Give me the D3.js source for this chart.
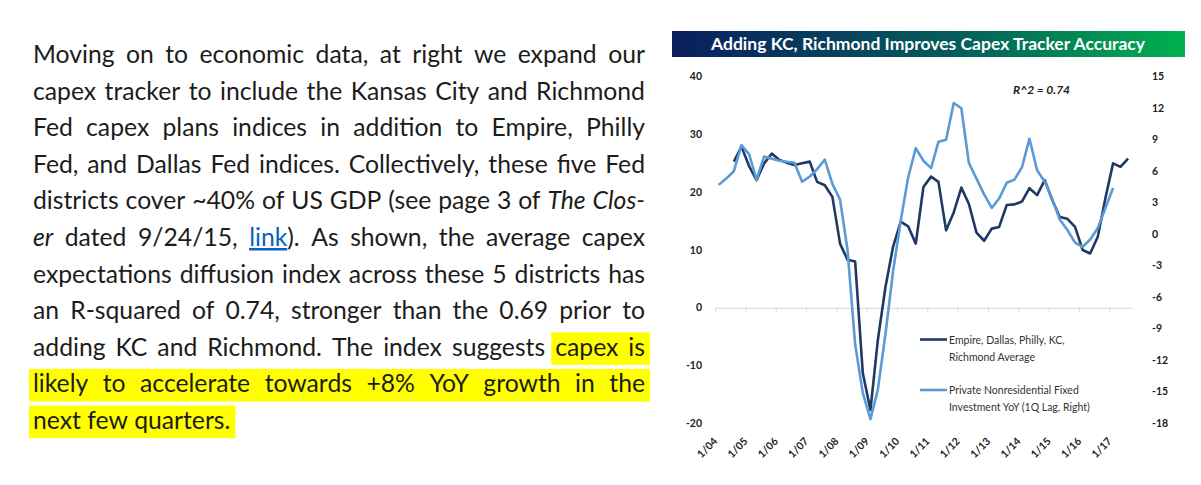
<!DOCTYPE html>
<html>
<head>
<meta charset="utf-8">
<script src="https://cdn.jsdelivr.net/npm/d3@7"></script>
<style>
  body { margin: 0; background: #fff; }
  svg { display: block; font-family: Lato, "Open Sans", sans-serif; }
</style>
</head>
<body>
<script>
var width = 1201,
  height = 485;

// quarterly observations, 2004Q1 .. 2017Q3
var quarters = [
  "2004Q1","2004Q2","2004Q3","2004Q4","2005Q1","2005Q2","2005Q3","2005Q4",
  "2006Q1","2006Q2","2006Q3","2006Q4","2007Q1","2007Q2","2007Q3","2007Q4",
  "2008Q1","2008Q2","2008Q3","2008Q4","2009Q1","2009Q2","2009Q3","2009Q4",
  "2010Q1","2010Q2","2010Q3","2010Q4","2011Q1","2011Q2","2011Q3","2011Q4",
  "2012Q1","2012Q2","2012Q3","2012Q4","2013Q1","2013Q2","2013Q3","2013Q4",
  "2014Q1","2014Q2","2014Q3","2014Q4","2015Q1","2015Q2","2015Q3","2015Q4",
  "2016Q1","2016Q2","2016Q3","2016Q4","2017Q1","2017Q2","2017Q3"
];

// Empire, Dallas, Philly, KC, Richmond average (left axis)
var capexAvg = [
  null, null, 25.3, 27.9, 24.5, 22.1, 25.0, 26.7,
  25.6, 25.1, 24.7, 25.0, 25.3, 21.8, 21.2, 19.2,
  11.1, 8.3, 8.0, -11.3, -17.7, -5.6, 3.6, 10.6,
  14.9, 14.1, 11.1, 20.9, 22.7, 21.8, 13.4, 16.5,
  20.8, 18.0, 13.0, 11.6, 13.7, 14.0, 17.8, 17.9,
  18.4, 20.7, 19.5, 22.1, 18.6, 15.7, 15.4, 14.0,
  10.0, 9.4, 12.3, 19.0, 25.0, 24.4, 25.8
];

// private nonresidential fixed investment YoY, 1Q lag (right axis)
var nonresYoY = [
  4.7, 5.3, 6.0, 8.5, 7.6, 5.2, 7.4, 7.2,
  7.0, 6.9, 6.8, 5.0, 5.5, 6.2, 7.1, 4.8,
  3.3, -1.5, -10.5, -15.1, -17.6, -14.8, -9.5, -3.5,
  1.3, 5.4, 8.2, 7.0, 6.3, 8.8, 9.0, 12.5,
  12.0, 6.8, 5.3, 3.8, 2.5, 3.4, 4.9, 5.2,
  6.4, 9.1, 6.1, 5.0, 3.3, 1.4, 0.4, -0.8,
  -1.2, -0.5, 0.6, 2.5, 4.4, null, null
];

var leftTicks = [40, 30, 20, 10, 0, -10, -20];
var rightTicks = [15, 12, 9, 6, 3, 0, -3, -6, -9, -12, -15, -18];
var yearLabels = ["1/04","1/05","1/06","1/07","1/08","1/09","1/10",
  "1/11","1/12","1/13","1/14","1/15","1/16","1/17"];

var seriesNames = [
  ["Empire, Dallas, Philly, KC,", "Richmond Average"],
  ["Private Nonresidential Fixed", "Investment YoY (1Q Lag, Right)"]
];
var chartTitle = "Adding KC, Richmond Improves Capex Tracker Accuracy";
var rsqLabel = "R^2 = 0.74";

// ^ = highlighted word, *..* = italic, [..] = link
var paragraph = [
  "Moving on to economic data, at right we expand our",
  "capex tracker to include the Kansas City and Richmond",
  "Fed capex plans indices in addition to Empire, Philly",
  "Fed, and Dallas Fed indices. Collectively, these five Fed",
  "districts cover ~40% of US GDP (see page 3 of *The* *Clos-*",
  "*er* dated 9/24/15, [link]). As shown, the average capex",
  "expectations diffusion index across these 5 districts has",
  "an R-squared of 0.74, stronger than the 0.69 prior to",
  "adding KC and Richmond. The index suggests ^capex ^is",
  "^likely ^to ^accelerate ^towards ^+8% ^YoY ^growth ^in ^the",
  "^next ^few ^quarters."
];

var svg = d3.select("body").append("svg")
  .attr("width", width)
  .attr("height", height);

// ---------- paragraph on the left ----------
var paraLeft = 33, paraRight = 645, base0 = 63, lineStep = 36.6, baseSize = 22;

var hlG = svg.append("g");
var paraG = svg.append("g")
  .attr("font-size", baseSize)
  .attr("fill", "#1c1c1c");

function wordParts(w) {
  if (/^\*.*\*$/.test(w)) return [{ t: w.slice(1, -1), s: "i" }];
  var m = w.match(/^\[(.*?)\](.*)$/);
  if (m) return [{ t: m[1], s: "link" }, { t: m[2], s: "" }];
  return [{ t: w, s: "" }];
}

var lines = paragraph.map(function (str) {
  return str.split(" ").map(function (w) {
    var hl = w[0] === "^";
    if (hl) w = w.slice(1);
    return { hl: hl, parts: wordParts(w) };
  });
});

// measure a space
var probe = paraG.append("text").text("x x");
var probe2 = paraG.append("text").text("xx");
var spaceW = probe.node().getComputedTextLength() - probe2.node().getComputedTextLength();
probe.remove(); probe2.remove();

lines.forEach(function (words, i) {
  words.forEach(function (w) {
    var t = paraG.append("text");
    w.parts.forEach(function (p) {
      var ts = t.append("tspan").text(p.t);
      if (p.s === "i") ts.attr("font-style", "italic");
      if (p.s === "link") ts.attr("fill", "#0563c1").attr("text-decoration", "underline");
    });
    w.node = t;
    w.w = t.node().getComputedTextLength();
  });
});

// scale font so the tightest line fits the column
var maxNat = d3.max(lines.slice(0, -1), function (words) {
  return d3.sum(words, function (w) { return w.w; }) + spaceW * (words.length - 1);
});
var k = (paraRight - paraLeft - 6) / maxNat;
var fs = baseSize * k;
paraG.attr("font-size", fs);

lines.forEach(function (words, i) {
  var y = base0 + i * lineStep;
  var total = d3.sum(words, function (w) { return w.w * k; });
  var last = i === lines.length - 1;
  var gap = last ? spaceW * k : (paraRight - paraLeft - total) / (words.length - 1);
  var x = paraLeft;
  words.forEach(function (w) {
    w.x = x;
    w.node.attr("x", x).attr("y", y);
    x += w.w * k + gap;
  });
  var hw = words.filter(function (w) { return w.hl; });
  if (hw.length) {
    var x0 = hw[0].x - 4,
      x1 = hw[hw.length - 1].x + hw[hw.length - 1].w * k + 5;
    hlG.append("rect")
      .attr("x", x0).attr("y", y - fs * 0.95)
      .attr("width", x1 - x0).attr("height", fs * 1.32)
      .attr("fill", "#ffff00");
  }
});

// ---------- chart on the right ----------
var x = d3.scaleTime()
  .domain([new Date(2004, 0, 1), new Date(2017, 9, 1)])
  .range([715, 1132]);
var yL = d3.scaleLinear().domain([-20, 40]).range([423.3, 76.7]);
var yR = d3.scaleLinear().domain([-18, 15]).range([423.3, 76.7]);

function qDate(q) {
  return new Date(+q.slice(0, 4), (+q.slice(5) - 1) * 3 + 1, 15);
}

// title banner
var defs = svg.append("defs");
var grad = defs.append("linearGradient").attr("id", "banner");
grad.append("stop").attr("offset", "0%").attr("stop-color", "#0b1e5e");
grad.append("stop").attr("offset", "55%").attr("stop-color", "#055c5c");
grad.append("stop").attr("offset", "100%").attr("stop-color", "#00b04f");

svg.append("rect")
  .attr("x", 672).attr("y", 31)
  .attr("width", 513).attr("height", 26)
  .attr("fill", "url(#banner)");

var titleT = svg.append("text")
  .attr("x", 928).attr("y", 50)
  .attr("text-anchor", "middle")
  .attr("font-weight", "bold")
  .attr("font-size", 15)
  .attr("fill", "#fff")
  .text(chartTitle);
titleT.attr("font-size", 15 * 434 / titleT.node().getComputedTextLength());

// zero axis with year ticks
var yearDates = yearLabels.map(function (s) { return new Date(2000 + +s.slice(2), 0, 1); });

var xAxis = svg.append("g")
  .attr("transform", "translate(0," + yL(0) + ")")
  .call(d3.axisBottom(x).tickValues(yearDates).tickFormat("").tickSize(5).tickSizeOuter(0));
xAxis.selectAll("path, line").attr("stroke", "#d9d9d9");

svg.append("g")
  .attr("font-size", 10.5)
  .attr("font-weight", "bold")
  .attr("fill", "#222")
  .selectAll("text")
  .data(yearLabels)
  .enter().append("text")
  .attr("text-anchor", "end")
  .attr("transform", function (d, i) {
    return "translate(" + (x(yearDates[i]) + 3) + ",442) rotate(-45)";
  })
  .text(function (d) { return d; });

// left and right value labels
svg.append("g")
  .attr("font-size", 10.5).attr("font-weight", "bold").attr("fill", "#222")
  .selectAll("text").data(leftTicks).enter().append("text")
  .attr("x", 702).attr("y", function (d) { return yL(d); })
  .attr("dy", "0.35em").attr("text-anchor", "end")
  .text(function (d) { return String(d); });

svg.append("g")
  .attr("font-size", 10.5).attr("font-weight", "bold").attr("fill", "#222")
  .selectAll("text").data(rightTicks).enter().append("text")
  .attr("x", 1152).attr("y", function (d) { return yR(d); })
  .attr("dy", "0.35em")
  .text(function (d) { return String(d); });

// series
var darkData = quarters.map(function (q, i) { return { d: qDate(q), v: capexAvg[i] }; });
var lightData = quarters.map(function (q, i) { return { d: qDate(q), v: nonresYoY[i] }; });

var lineL = d3.line()
  .defined(function (p) { return p.v != null; })
  .x(function (p) { return x(p.d); })
  .y(function (p) { return yL(p.v); });
var lineR = d3.line()
  .defined(function (p) { return p.v != null; })
  .x(function (p) { return x(p.d); })
  .y(function (p) { return yR(p.v); });

svg.append("path")
  .datum(darkData)
  .attr("d", lineL)
  .attr("fill", "none")
  .attr("stroke", "#1f3864")
  .attr("stroke-width", 2.6)
  .attr("stroke-linejoin", "round");

svg.append("path")
  .datum(lightData)
  .attr("d", lineR)
  .attr("fill", "none")
  .attr("stroke", "#5b9bd5")
  .attr("stroke-width", 2.6)
  .attr("stroke-linejoin", "round");

// R^2 note
svg.append("text")
  .attr("x", 1013).attr("y", 94)
  .attr("font-size", 12).attr("font-weight", "bold").attr("font-style", "italic")
  .attr("fill", "#222")
  .text(rsqLabel);

// legend
var legendColors = ["#1f3864", "#5b9bd5"];
var legendY = [339.5, 390];
var leg = svg.append("g").attr("font-size", 10.5).attr("fill", "#333");
seriesNames.forEach(function (names, i) {
  leg.append("line")
    .attr("x1", 920).attr("x2", 947)
    .attr("y1", legendY[i]).attr("y2", legendY[i])
    .attr("stroke", legendColors[i]).attr("stroke-width", 2.6);
  names.forEach(function (n, j) {
    leg.append("text")
      .attr("x", 949).attr("y", legendY[i] + 4 + j * 17)
      .text(n);
  });
});
</script>
</body>
</html>
